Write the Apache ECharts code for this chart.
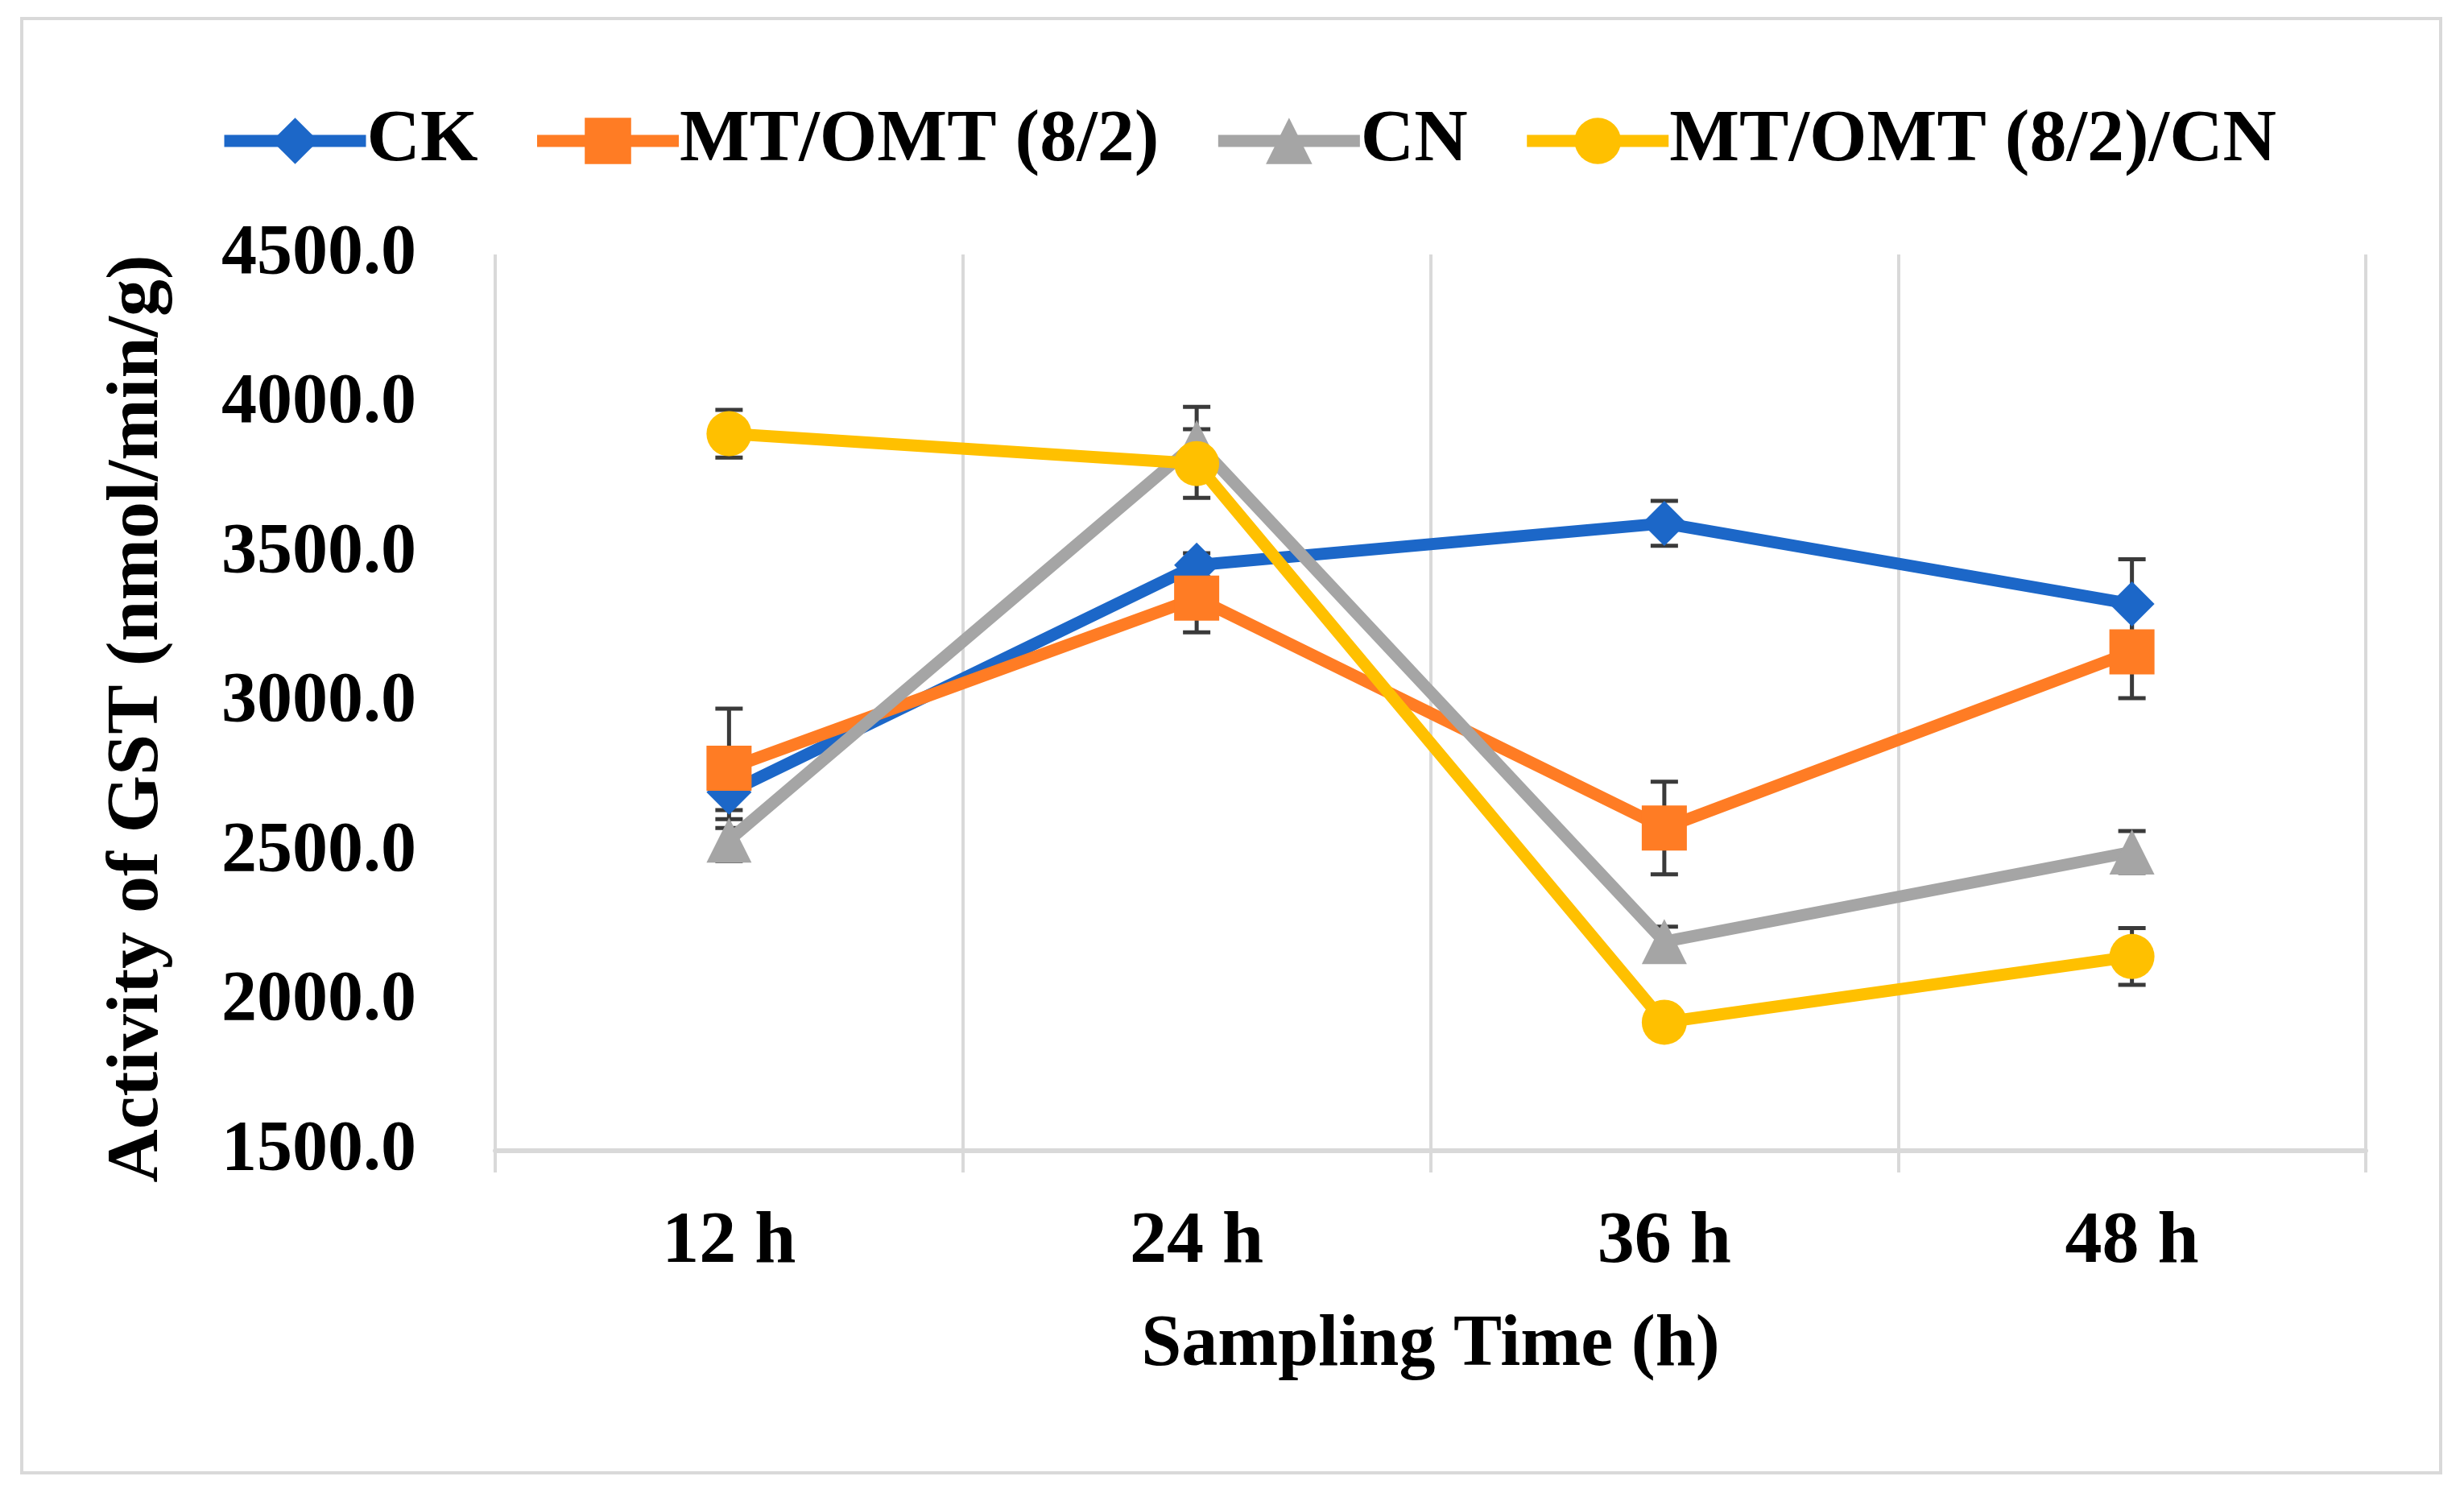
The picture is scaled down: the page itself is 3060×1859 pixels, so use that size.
<!DOCTYPE html>
<html>
<head>
<meta charset="utf-8">
<title>Activity of GST</title>
<script src="https://cdn.jsdelivr.net/npm/echarts@6/dist/echarts.min.js"></script>
<style>
    html, body { margin: 0; padding: 0; background: #fff; }
    #chart { width: 3060px; height: 1859px; }
</style>
</head>
<body>
<div id="chart"></div>
<script>
// 数据
const categories = ['12 h', '24 h', '36 h', '48 h'];
const seriesNames = ['CK', 'MT/OMT (8/2)', 'CN', 'MT/OMT (8/2)/CN'];
const ckValues = [2700, 3460, 3600, 3330];
const ckErrors = [60, 40, 75, 150];
const mtValues = [2780, 3350, 2580, 3170];
const mtErrors = [200, 115, 155, 155];
const cnValues = [2540, 3870, 2200, 2500];
const cnErrors = [70, 120, 50, 70];
const mtcnValues = [3900, 3800, 1930, 2150];
const mtcnErrors = [80, 115, 30, 95];
const yTicks = { min: 1500, max: 4500, interval: 500 };

const colors = ['#1c67c8', '#ff7c24', '#a5a5a5', '#ffc000'];
const symbols = ['diamond', 'rect', 'triangle', 'circle'];
const FONT = 'Liberation Serif';

// 误差线
function errorBarItem(params, api) {
    const x = api.value(0);
    const y = api.value(1);
    const e = api.value(2);
    const top = api.coord([x, y + e]);
    const bot = api.coord([x, y - e]);
    const half = 17;
    const style = { stroke: '#3a3a3a', lineWidth: 5 };
    return {
        type: 'group',
        children: [
            { type: 'line', shape: { x1: top[0], y1: top[1], x2: bot[0], y2: bot[1] }, style: style },
            { type: 'line', shape: { x1: top[0] - half, y1: top[1], x2: top[0] + half, y2: top[1] }, style: style },
            { type: 'line', shape: { x1: bot[0] - half, y1: bot[1], x2: bot[0] + half, y2: bot[1] }, style: style }
        ]
    };
}

function lineSeries(i, values) {
    return {
        name: seriesNames[i],
        type: 'line',
        data: values,
        symbol: symbols[i],
        symbolSize: 56,
        showSymbol: true,
        z: 3 + i,
        lineStyle: { color: colors[i], width: 15 },
        itemStyle: { color: colors[i] }
    };
}

function errorSeries(values, errors) {
    return {
        type: 'custom',
        renderItem: errorBarItem,
        data: values.map((v, k) => [k, v, errors[k]]),
        encode: { x: 0, y: 1 },
        z: 2,
        silent: true
    };
}

document.addEventListener('DOMContentLoaded', function() {
    const chart = echarts.init(document.getElementById('chart'));
    const option = {
        animation: false,
        backgroundColor: '#fff',
        textStyle: { fontFamily: FONT },
        graphic: [{
            type: 'rect',
            shape: { x: 27, y: 23, width: 3004, height: 1806 },
            style: { fill: 'none', stroke: '#d9d9d9', lineWidth: 4 }
        }],
        legend: {
            data: seriesNames,
            left: 266,
            top: 124,
            itemWidth: 176,
            itemHeight: 72,
            itemGap: 66,
            lineStyle: { width: 15 },
            textStyle: { fontFamily: FONT, fontWeight: 'bold', fontSize: 92, color: '#000', padding: [0, 0, 0, -4] }
        },
        grid: { left: 615, right: 122, top: 316, bottom: 430 },
        xAxis: {
            type: 'category',
            data: categories,
            name: 'Sampling Time (h)',
            nameLocation: 'middle',
            nameGap: 198,
            nameTextStyle: { fontFamily: FONT, fontWeight: 'bold', fontSize: 90, color: '#000' },
            axisLine: { lineStyle: { color: '#d9d9d9', width: 6 } },
            axisTick: { show: true, length: 27, lineStyle: { color: '#d9d9d9', width: 4 } },
            splitLine: { show: true, lineStyle: { color: '#d9d9d9', width: 4 } },
            axisLabel: { margin: 68, fontFamily: FONT, fontWeight: 'bold', fontSize: 92, color: '#000' }
        },
        yAxis: {
            type: 'value',
            min: yTicks.min,
            max: yTicks.max,
            interval: yTicks.interval,
            name: 'Activity of GST (nmol/min/g)',
            nameLocation: 'middle',
            nameGap: 398,
            nameTextStyle: { fontFamily: FONT, fontWeight: 'bold', fontSize: 92, color: '#000', padding: [0, 40, 0, 0] },
            axisLine: { show: false },
            axisTick: { show: false },
            splitLine: { show: false },
            axisLabel: {
                margin: 98,
                fontFamily: FONT,
                fontWeight: 'bold',
                fontSize: 88,
                color: '#000',
                formatter: function(v) { return v.toFixed(1); }
            }
        },
        series: [
            errorSeries(ckValues, ckErrors),
            errorSeries(mtValues, mtErrors),
            errorSeries(cnValues, cnErrors),
            errorSeries(mtcnValues, mtcnErrors),
            lineSeries(0, ckValues),
            lineSeries(1, mtValues),
            lineSeries(2, cnValues),
            lineSeries(3, mtcnValues)
        ]
    };
    chart.setOption(option);
});
</script>
</body>
</html>
